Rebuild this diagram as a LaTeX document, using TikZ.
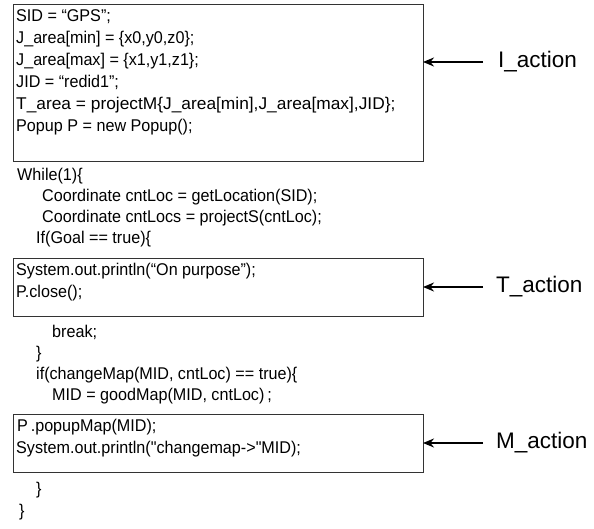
\documentclass[tikz,border=0pt]{standalone}
\usepackage{fontspec}
\setmainfont{Liberation Sans}
\newfontfamily\codefont{Liberation Sans}[FakeStretch=0.95]
\newfontfamily\widecodefont{Liberation Sans}[FakeStretch=1.02]
\usetikzlibrary{arrows.meta}
\begin{document}
\begin{tikzpicture}[x=1pt,y=-1pt,
  code/.style={anchor=mid west,inner sep=0pt,font=\codefont\fontsize{17}{19}\selectfont},
  widecode/.style={code,font=\widecodefont\fontsize{17}{19}\selectfont},
  actbox/.style={draw=black!80,line width=0.9pt},
  lab/.style={anchor=west,inner sep=0pt,font=\fontsize{22.5}{26}\selectfont},
  actarrow/.style={line width=2pt,-{Stealth[length=11pt,width=9pt]}}]
\useasboundingbox (0,0) rectangle (594,529);
% boxes
\draw[actbox] (13,4) rectangle (423,161);
\draw[actbox] (13,258) rectangle (423,316);
\draw[actbox] (13,414) rectangle (423,472);
\coordinate (iedge) at (423,62);
\coordinate (tedge) at (423,287);
\coordinate (medge) at (423,443);
% box 1 text
\node[code] (l1) at (16,19) {SID = “GPS”;};
\node[code] (l2) at (16,41) {J\_area[min] = \{x0,y0,z0\};};
\node[code] (l3) at (16,63) {J\_area[max] = \{x1,y1,z1\};};
\node[code] (l4) at (16,85) {JID = “redid1”;};
\node[widecode] (l5) at (16,107) {T\_area = projectM\{J\_area[min],J\_area[max],JID\};};
\node[code] (l6) at (16,129) {Popup P = new Popup();};
% loop
\node[code] (l7) at (17,178) {While(1)\{};
\node[code] (l8) at (42,199) {Coordinate cntLoc = getLocation(SID);};
\node[code] (l9) at (42,220) {Coordinate cntLocs = projectS(cntLoc);};
\node[code] (l10) at (36,241) {If(Goal == true)\{};
\node[code] (l11) at (16,273) {System.out.println(“On purpose”);};
\node[code] (l12) at (16,295) {P.close();};
\node[code] (l13) at (52,335) {break;};
\node[code] (l14) at (36,356) {\}};
\node[code] (l15) at (36,377) {if(changeMap(MID, cntLoc) == true)\{};
\node[code] (l16) at (52,398) {MID = goodMap(MID, cntLoc)\,;};
\node[code] (l17) at (17,429) {P\,.popupMap(MID);};
\node[code] (l18) at (16,451) {System.out.println("changemap->"MID);};
\node[code] (l19) at (36,492) {\}};
\node[code] (l20) at (19,514) {\}};
% labels
\node[lab] (ia) at (498,62) {I\_action};
\node[lab] (ta) at (496,287) {T\_action};
\node[lab] (ma) at (496,443) {M\_action};
\draw[actarrow] (ia.west) ++(-15,0) -- (iedge);
\draw[actarrow] (ta.west) ++(-13,0) -- (tedge);
\draw[actarrow] (ma.west) ++(-13,0) -- (medge);
\end{tikzpicture}
\end{document}
